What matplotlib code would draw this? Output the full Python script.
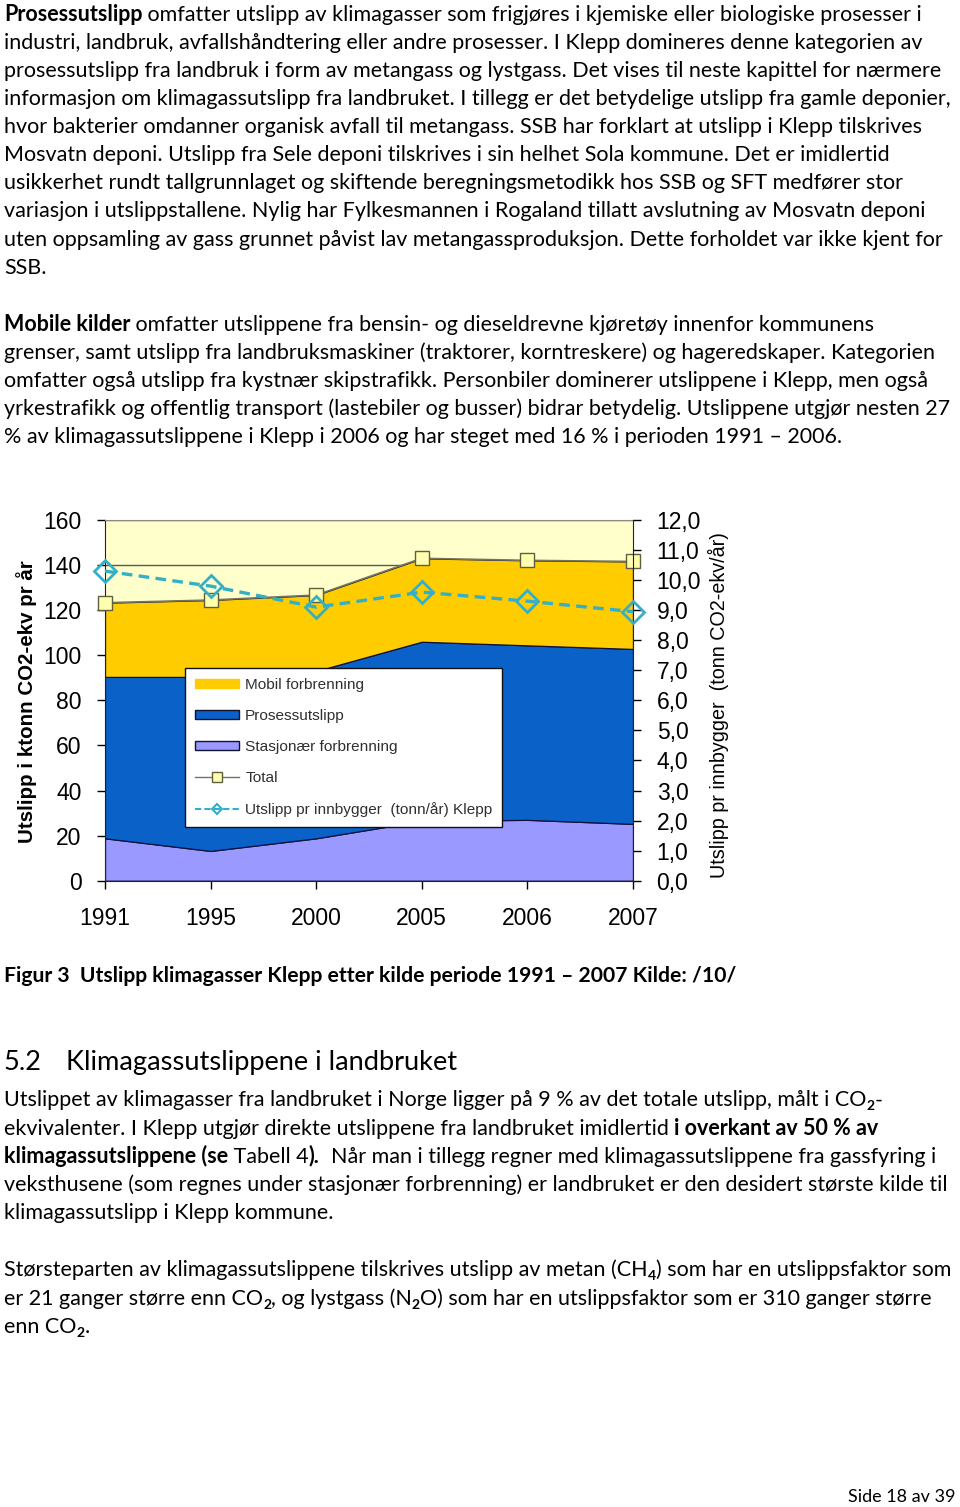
import matplotlib
matplotlib.use('Agg')
import matplotlib.pyplot as plt
from matplotlib.patches import Patch
from matplotlib.lines import Line2D
from matplotlib.ticker import FuncFormatter
import numpy as np

# ---------------- data ----------------
years = ['1991', '1995', '2000', '2005', '2006', '2007']
stasjonaer = [18.8, 13.2, 18.8, 26.5, 27.0, 25.2]
prosess = [71.6, 77.2, 74.2, 79.5, 77.4, 77.6]
mobil = [32.9, 34.1, 33.7, 37.0, 37.7, 38.8]
total = [123.3, 124.5, 126.7, 143.0, 142.1, 141.6]
per_innbygger = [10.3, 9.8, 9.1, 9.6, 9.3, 8.95]
left_ticks = [0, 20, 40, 60, 80, 100, 120, 140, 160]
right_ticks = [0, 1, 2, 3, 4, 5, 6, 7, 8, 9, 10, 11, 12]
legend_labels = ['Mobil forbrenning', 'Prosessutslipp', 'Stasjonær forbrenning',
                 'Total', 'Utslipp pr innbygger  (tonn/år) Klepp']

W, H = 960, 1507
CHART = ['Liberation Sans', 'DejaVu Sans']
BODY = ['Lato', 'DejaVu Sans']

C_MOB = '#FFCC00'
C_PRO = '#0A62C8'
C_STA = '#9999FF'
C_BG = '#FFFFCC'
C_CAP = '#33B0C8'

fig = plt.figure(figsize=(W / 100, H / 100), dpi=100)
fig.patch.set_facecolor('white')

ax = fig.add_axes([105 / W, 1 - 880.7 / H, (633 - 105) / W, 360.7 / H])
x = np.arange(len(years))
ax.set_facecolor(C_BG)
ax.stackplot(x, stasjonaer, prosess, mobil, colors=[C_STA, C_PRO, C_MOB],
             edgecolor='#101040', linewidth=0.9, zorder=2)
ax.set_axisbelow(True)
ax.yaxis.grid(True, color='#5a5a50', lw=1.0)
ax.plot(x, total, color='#75755f', lw=1.2, marker='s', ms=9.5, mfc='#FFFFB0',
        mec='#5F5F40', mew=1.0, zorder=4, clip_on=False)
ax.set_xlim(0, len(years) - 1)
ax.set_ylim(0, 160)
ax.set_xticks(x)
ax.set_xticklabels(years)
ax.set_yticks(left_ticks)
ax.tick_params(axis='x', direction='out', length=6, width=1, pad=13, labelsize=16.5)
ax.tick_params(axis='y', direction='out', length=6, width=1, pad=11, labelsize=16.5)
for lab in ax.get_xticklabels() + ax.get_yticklabels():
    lab.set_family(CHART)
ax.spines['top'].set_color('#8a8a80')
ax.spines['right'].set_visible(False)
for s in ['left', 'bottom']:
    ax.spines[s].set_color('#222222')

ax2 = ax.twinx()
ax2.plot(x, per_innbygger, color=C_CAP, lw=2.4, ls=(0, (3.2, 1.9)), marker='D', ms=11,
         mfc='none', mec=C_CAP, mew=2.0, zorder=5, clip_on=False)
ax2.set_ylim(0, 12)
ax2.set_yticks(right_ticks)
ax2.yaxis.set_major_formatter(FuncFormatter(lambda v, p: f"{v:.1f}".replace('.', ',')))
ax2.tick_params(axis='y', direction='out', length=6, width=1, pad=11, labelsize=16.5)
for lab in ax2.get_yticklabels():
    lab.set_family(CHART)
for s in ['left', 'top', 'bottom']:
    ax2.spines[s].set_visible(False)
ax2.spines['right'].set_color('#222222')

fig.text(27 / W, 1 - 701.5 / H, 'Utslipp i ktonn CO2-ekv pr år', rotation=90,
         ha='center', va='center', fontsize=14.8, fontweight='bold', family=CHART)
fig.text(718 / W, 1 - 705 / H, 'Utslipp pr innbygger  (tonn CO2-ekv/år)', rotation=90,
         ha='center', va='center', fontsize=14.2, family=CHART)

handles = [Patch(fc=C_MOB, ec=C_MOB),
           Patch(fc=C_PRO, ec='#101030', lw=1),
           Patch(fc=C_STA, ec='#101030', lw=1),
           Line2D([], [], color='#75755f', lw=1, marker='s', ms=6.5, mfc='#FFFFB0', mec='#5F5F40'),
           Line2D([], [], color=C_CAP, lw=1.5, ls=(0, (3, 1.5)), marker='D', ms=5.5,
                  mfc='none', mec=C_CAP, mew=1.5)]
leg = ax2.legend(handles, legend_labels, loc='upper left',
                 bbox_to_anchor=(185 / W, 1 - 668 / H), bbox_transform=fig.transFigure,
                 frameon=True, fancybox=False, edgecolor='#111111', framealpha=1,
                 prop={'family': CHART, 'size': 11.1}, handlelength=2.85, handleheight=0.6,
                 handletextpad=0.4, labelspacing=1.1, borderpad=0.65, borderaxespad=0)
leg.get_frame().set_linewidth(1.0)
for t in leg.get_texts():
    t.set_color('#303030')

# ---------------- page text ----------------
renderer = fig.canvas.get_renderer()


def seg_kw(style, size, family):
    kw = dict(fontsize=size, family=family, color='black')
    if 'b' in style:
        kw['fontweight'] = 'bold'
    if 'sub' in style:
        kw['fontsize'] = size * 0.65
    return kw


def measure(s, **kw):
    t1 = fig.text(0, 0, '|' + s + '|', **kw)
    w1 = t1.get_window_extent(renderer).width
    t1.remove()
    t0 = fig.text(0, 0, '||', **kw)
    w0 = t0.get_window_extent(renderer).width
    t0.remove()
    return w1 - w0


def line_width(segs, size, family=BODY):
    return sum(measure(s, **seg_kw(st, size, family)) for s, st in segs)


def draw_segments(x0, yb, segs, size, family=BODY):
    xp = x0
    for s, style in segs:
        kw = seg_kw(style, size, family)
        dy = 4 if 'sub' in style else 0
        fig.text(xp / W, 1 - (yb + dy) / H, s, va='baseline', ha='left', **kw)
        xp += measure(s, **kw)


N = 'n'
B = 'b'
S = 'sub'
para1 = [
    [('Prosessutslipp', B), (' omfatter utslipp av klimagasser som frigjøres i kjemiske eller biologiske prosesser i', N)],
    [('industri, landbruk, avfallshåndtering eller andre prosesser. I Klepp domineres denne kategorien av', N)],
    [('prosessutslipp fra landbruk i form av metangass og lystgass. Det vises til neste kapittel for nærmere', N)],
    [('informasjon om klimagassutslipp fra landbruket. I tillegg er det betydelige utslipp fra gamle deponier,', N)],
    [('hvor bakterier omdanner organisk avfall til metangass. SSB har forklart at utslipp i Klepp tilskrives', N)],
    [('Mosvatn deponi. Utslipp fra Sele deponi tilskrives i sin helhet Sola kommune. Det er imidlertid', N)],
    [('usikkerhet rundt tallgrunnlaget og skiftende beregningsmetodikk hos SSB og SFT medfører stor', N)],
    [('variasjon i utslippstallene. Nylig har Fylkesmannen i Rogaland tillatt avslutning av Mosvatn deponi', N)],
    [('uten oppsamling av gass grunnet påvist lav metangassproduksjon. Dette forholdet var ikke kjent for', N)],
    [('SSB.', N)],
]
para2 = [
    [('Mobile kilder', B), (' omfatter utslippene fra bensin- og dieseldrevne kjøretøy innenfor kommunens', N)],
    [('grenser, samt utslipp fra landbruksmaskiner (traktorer, korntreskere) og hageredskaper. Kategorien', N)],
    [('omfatter også utslipp fra kystnær skipstrafikk. Personbiler dominerer utslippene i Klepp, men også', N)],
    [('yrkestrafikk og offentlig transport (lastebiler og busser) bidrar betydelig. Utslippene utgjør nesten 27', N)],
    [('% av klimagassutslippene i Klepp i 2006 og har steget med 16 % i perioden 1991 – 2006.', N)],
]
para3 = [
    [('Utslippet av klimagasser fra landbruket i Norge ligger på 9 % av det totale utslipp, målt i CO', N), ('2', S), ('-', N)],
    [('ekvivalenter. I Klepp utgjør direkte utslippene fra landbruket imidlertid ', N), ('i overkant av 50 % av', B)],
    [('klimagassutslippene (se', B), (' Tabell 4', N), (').', B), ('  Når man i tillegg regner med klimagassutslippene fra gassfyring i', N)],
    [('veksthusene (som regnes under stasjonær forbrenning) er landbruket er den desidert største kilde til', N)],
    [('klimagassutslipp i Klepp kommune.', N)],
]
para4 = [
    [('Størsteparten av klimagassutslippene tilskrives utslipp av metan (CH', N), ('4', S), (') som har en utslippsfaktor som', N)],
    [('er 21 ganger større enn CO', N), ('2', S), (', og lystgass (N', N), ('2', S), ('O) som har en utslippsfaktor som er 310 ganger større', N)],
    [('enn CO', N), ('2', S), ('.', N)],
]
caption = [('Figur 3  Utslipp klimagasser Klepp etter kilde periode 1991 – 2007 Kilde: /10/', B)]
heading_num = '5.2'
heading_txt = 'Klimagassutslippene i landbruket'
footer = 'Side 18 av 39'

# font sizes chosen so that each text spans the same width as on the page
body_size = 15.0 * 921.0 / line_width(para1[0], 15.0)
cap_size = 15.0 * 737.0 / line_width(caption, 15.0)
head_size = 15.0 * 393.0 / line_width([(heading_txt, N)], 15.0)
foot_size = 15.0 * 108.0 / line_width([(footer, N)], 15.0)

LS = 28.1
for i, segs in enumerate(para1):
    draw_segments(4, 20.7 + i * LS, segs, body_size)
for i, segs in enumerate(para2):
    draw_segments(4, 330.7 + i * LS, segs, body_size)
draw_segments(4, 981.7, caption, cap_size)
fig.text(4 / W, 1 - 1070 / H, heading_num, fontsize=head_size, family=BODY, va='baseline', ha='left')
fig.text(66 / W, 1 - 1070 / H, heading_txt, fontsize=head_size, family=BODY,
         va='baseline', ha='left')
for i, segs in enumerate(para3):
    draw_segments(4, 1106.5 + i * LS, segs, body_size)
for i, segs in enumerate(para4):
    draw_segments(4, 1276.5 + i * LS, segs, body_size)
fig.text(955 / W, 1 - 1501.5 / H, footer, fontsize=foot_size, family=BODY,
         va='baseline', ha='right')

fig.savefig('out.png', dpi=100, facecolor='white')
